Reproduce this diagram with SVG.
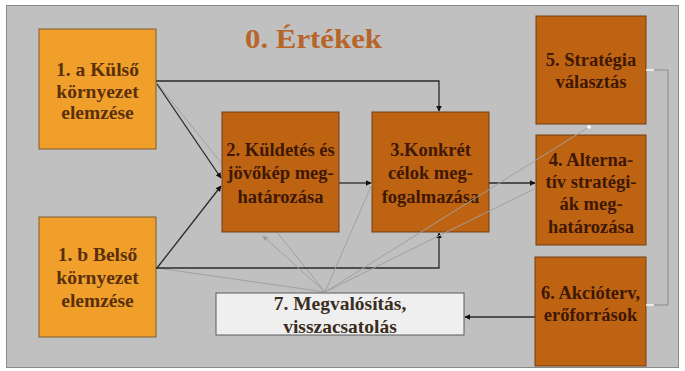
<svg xmlns="http://www.w3.org/2000/svg" width="685" height="371" viewBox="0 0 685 371">
<style>
.t{font-family:"Liberation Serif","Times New Roman",serif;font-weight:bold;font-size:18.5px;text-anchor:middle}
.big{font-size:19.5px}
.lt{fill:#f0a02a;stroke:#7d5a30;stroke-width:1}
.dk{fill:#be6311;stroke:#6e3f14;stroke-width:1}
.wt{fill:#efefef;stroke:#5a5a5a;stroke-width:1}
.tl{fill:#5a2f0c}
.td{fill:#3e1805}
.tw{fill:#3a2d22}
.blk{stroke:#2a2a2a;stroke-width:1.3;fill:none}
.gry{stroke:#8c8c8c;stroke-width:1;fill:none}
.lg{stroke:#a0a0a0;stroke-width:1;fill:none}
</style>
<defs>
<marker id="ah" viewBox="0 0 10 10" refX="9" refY="5" markerWidth="4.5" markerHeight="4.5" orient="auto" markerUnits="strokeWidth">
<path d="M0,0 L10,5 L0,10 z" fill="#111"/>
</marker>
<marker id="ag" viewBox="0 0 10 10" refX="9" refY="5" markerWidth="5" markerHeight="5" orient="auto" markerUnits="strokeWidth">
<path d="M0,0 L10,5 L0,10 z" fill="#999"/>
</marker>
</defs>
<rect x="0" y="0" width="685" height="371" fill="#ffffff"/>
<rect x="6.5" y="5.5" width="672" height="362" fill="#c0c0c0" stroke="#8a8a8a" stroke-width="1"/>
<text x="313.5" y="48" font-family="'Liberation Serif','Times New Roman',serif" font-weight="bold" font-size="28" fill="#b8652a" text-anchor="middle" textLength="137" lengthAdjust="spacingAndGlyphs">0. Értékek</text>

<g id="connectors-back">
<line class="lg" x1="325" y1="292" x2="157" y2="83"/>
<line class="lg" x1="325" y1="292" x2="157" y2="268"/>
</g>

<g id="n1a"><rect class="lt" x="39" y="29" width="117" height="120"/>
<text class="t big tl" x="97.5" y="76">1. a Külső</text>
<text class="t big tl" x="97.5" y="97.5">környezet</text>
<text class="t big tl" x="97.5" y="119">elemzése</text></g>

<g id="n1b"><rect class="lt" x="39" y="217" width="117" height="120"/>
<text class="t big tl" x="97.5" y="261">1. b Belső</text>
<text class="t big tl" x="97.5" y="284">környezet</text>
<text class="t big tl" x="97.5" y="307">elemzése</text></g>

<g id="n2"><rect class="dk" x="222" y="112" width="117" height="120"/>
<text class="t td" x="280.5" y="156">2. Küldetés és</text>
<text class="t td" x="280.5" y="179">jövőkép meg-</text>
<text class="t td" x="280.5" y="203">határozása</text></g>

<g id="n3"><rect class="dk" x="372" y="112" width="117" height="120"/>
<text class="t td" x="430.5" y="156">3.Konkrét</text>
<text class="t td" x="430.5" y="179">célok meg-</text>
<text class="t td" x="430.5" y="203">fogalmazása</text></g>

<g id="n5"><rect class="dk" x="536" y="16" width="110" height="108"/>
<text class="t td" x="591" y="66">5. Stratégia</text>
<text class="t td" x="591" y="88">választás</text></g>

<g id="n4"><rect class="dk" x="536" y="135" width="110" height="110"/>
<text class="t td" x="591" y="166">4. Alterna-</text>
<text class="t td" x="591" y="188">tív stratégi-</text>
<text class="t td" x="591" y="210">ák meg-</text>
<text class="t td" x="591" y="233">határozása</text></g>

<g id="n6"><rect class="dk" x="535" y="257" width="111" height="109"/>
<text class="t td" x="590.5" y="299">6. Akcióterv,</text>
<text class="t td" x="590.5" y="321">erőforrások</text></g>

<g id="n7"><rect class="wt" x="216" y="293" width="248" height="42"/>
<text class="t big tw" x="340" y="310">7. Megvalósítás,</text>
<text class="t big tw" x="340" y="333">visszacsatolás</text></g>

<g id="connectors">
<polyline class="blk" points="156,81 439,81 439,111" marker-end="url(#ah)"/>
<polyline class="blk" points="156,268 439,268 439,233" marker-end="url(#ah)"/>
<line class="blk" x1="157" y1="84" x2="221" y2="178" marker-end="url(#ah)"/>
<line class="blk" x1="157" y1="268" x2="221" y2="186" marker-end="url(#ah)"/>
<line class="blk" x1="339" y1="183" x2="371" y2="183" marker-end="url(#ah)"/>
<line class="blk" x1="489" y1="183" x2="535" y2="183" marker-end="url(#ah)"/>
<line class="blk" x1="535" y1="317" x2="465" y2="317" marker-end="url(#ah)"/>
<line class="lg" x1="325" y1="292" x2="263" y2="236" marker-end="url(#ag)"/>
<line class="lg" x1="325" y1="292" x2="372" y2="184"/>
<line class="lg" x1="325" y1="292" x2="589" y2="127"/>
<line class="lg" x1="325" y1="292" x2="536" y2="188"/>
<polyline class="gry" points="646,70 668,70 668,305 646,305"/>
<line x1="646" y1="70" x2="654" y2="70" stroke="#ffffff" stroke-width="1.5"/>
<line x1="646" y1="305" x2="654" y2="305" stroke="#ffffff" stroke-width="1.5"/>
<circle cx="589" cy="127" r="1.8" fill="#ffffff"/>
</g>
</svg>
